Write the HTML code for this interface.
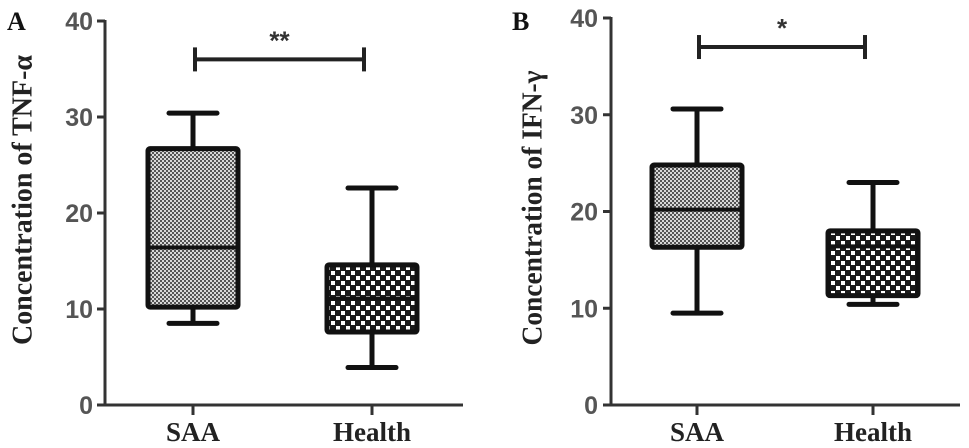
<!DOCTYPE html>
<html><head><meta charset="utf-8"><style>
html,body{margin:0;padding:0;background:#fff;}
svg{display:block;}
</style></head><body>
<svg id="chart" width="969" height="448" viewBox="0 0 969 448" xmlns="http://www.w3.org/2000/svg">
<defs>
<pattern id="fine" width="4" height="4" patternUnits="userSpaceOnUse">
<rect width="4" height="4" fill="#d8d8d8"/><rect width="2" height="2" fill="#555"/><rect x="2" y="2" width="2" height="2" fill="#555"/>
</pattern>
<pattern id="check" width="10" height="10" patternUnits="userSpaceOnUse">
<rect width="10" height="10" fill="#1a1a1a"/><rect x="1" y="1" width="4" height="4" fill="#fff"/><rect x="6" y="6" width="4" height="4" fill="#fff"/>
</pattern>
</defs>
<g id="root"></g>
</svg>
<script>
const categories = ["SAA", "Health"];
const tickLabels = [0, 10, 20, 30, 40];
// panel A: TNF-α  [whiskerLow, q1, median, q3, whiskerHigh]
const tnfSAA = [8.5, 10.2, 16.4, 26.7, 30.4];
const tnfHealth = [3.9, 7.6, 11.1, 14.6, 22.6];
// panel B: IFN-γ
const ifnSAA = [9.5, 16.3, 20.2, 24.8, 30.6];
const ifnHealth = [10.4, 11.3, 16.4, 18.0, 23.0];
const sigLabels = ["**", "*"];
const sigLevels = [36, 37];

const NS = "http://www.w3.org/2000/svg";
const root = document.getElementById('root');
function mk(tag, attrs, parent){const e=document.createElementNS(NS,tag);for(const k in attrs)e.setAttribute(k,attrs[k]);(parent||root).appendChild(e);return e;}

const panels = [
 {letter:"A", title:"Concentration of TNF-α", ax:105, y0:405, y40:21, xEnd:463, cx:[193,372], data:[tnfSAA,tnfHealth], lx:7, titleX:23, titleY:200, titleLen:290, tickEnd:93, sig:sigLabels[0], sigY:sigLevels[0]},
 {letter:"B", title:"Concentration of IFN-γ", ax:611, y0:405, y40:18, xEnd:960, cx:[697,873], data:[ifnSAA,ifnHealth], lx:512, titleX:533, titleY:208, titleLen:275, tickEnd:598, sig:sigLabels[1], sigY:sigLevels[1]}
];
const fills = ["url(#fine)", "url(#check)"];

panels.forEach((p, pi) => {
  const g = mk('g', {});
  
  
  const y = v => p.y0 - (v / 40) * (p.y0 - p.y40);

  const L = mk('text', {x:p.lx, y:30, 'font-family':'Liberation Serif, serif', 'font-weight':'bold', 'font-size':26, fill:'#111'}, g);
  L.textContent = p.letter;
  
  

  const t = mk('text', {x:p.titleX, y:p.titleY, transform:`rotate(-90 ${p.titleX} ${p.titleY})`, 'text-anchor':'middle', 'dominant-baseline':'central', 'font-family':'Liberation Serif, serif', 'font-weight':'bold', 'font-size':28, textLength:p.titleLen, lengthAdjust:'spacingAndGlyphs', fill:'#222'}, g);
  t.textContent = p.title;
  
  

  const ya = mk('line', {x1:p.ax, y1:p.y40-1, x2:p.ax, y2:p.y0, stroke:'#333', 'stroke-width':3}, g);
  
  
  const xa = mk('line', {x1:p.ax-8, y1:p.y0, x2:p.xEnd, y2:p.y0, stroke:'#333', 'stroke-width':3}, g);
  
  

  tickLabels.forEach(v => {
    const tk = mk('line', {x1:p.ax-8, y1:y(v), x2:p.ax, y2:y(v), stroke:'#333', 'stroke-width':3}, g);
    
    
    const tl = mk('text', {x:p.tickEnd, y:y(v)+1, 'text-anchor':'end', 'dominant-baseline':'central', 'font-family':'Liberation Sans, sans-serif', 'font-weight':'bold', 'font-size':25, fill:'#555'}, g);
    tl.textContent = v;
    
    
  });

  categories.forEach((c, ci) => {
    const cx = p.cx[ci];
    const tk = mk('line', {x1:cx, y1:p.y0, x2:cx, y2:p.y0+10, stroke:'#333', 'stroke-width':3}, g);
    
    
    const cl = mk('text', {x:cx, y:441, 'text-anchor':'middle', 'font-family':'Liberation Serif, serif', 'font-weight':'bold', 'font-size':27, fill:'#222'}, g);
    cl.textContent = c;
    
    

    const d = p.data[ci];
    const bw = 45, cw = 24;
    const bg = mk('g', {}, g);
    
    
    const sw = {stroke:'#111', 'stroke-width':5};
    mk('line', Object.assign({x1:cx, y1:y(d[4]), x2:cx, y2:y(d[3])}, sw), bg);
    mk('line', Object.assign({x1:cx, y1:y(d[1]), x2:cx, y2:y(d[0])}, sw), bg);
    mk('line', Object.assign({x1:cx-cw, y1:y(d[4]), x2:cx+cw, y2:y(d[4]), 'stroke-linecap':'round'}, sw), bg);
    mk('line', Object.assign({x1:cx-cw, y1:y(d[0]), x2:cx+cw, y2:y(d[0]), 'stroke-linecap':'round'}, sw), bg);
    mk('rect', {x:cx-bw, y:y(d[3]), width:bw*2, height:y(d[1])-y(d[3]), fill:fills[ci], stroke:'#111', 'stroke-width':5, rx:2}, bg);
    mk('line', Object.assign({x1:cx-bw, y1:y(d[2]), x2:cx+bw, y2:y(d[2])}, {stroke:'#111', 'stroke-width':4}), bg);
  });

  const sg = mk('g', {}, g);
  
  
  const sy = y(p.sigY), x1 = p.cx[0]+2, x2 = p.cx[1]-8;
  mk('line', {x1:x1, y1:sy, x2:x2, y2:sy, stroke:'#222', 'stroke-width':4}, sg);
  mk('line', {x1:x1, y1:sy-12, x2:x1, y2:sy+12, stroke:'#222', 'stroke-width':4}, sg);
  mk('line', {x1:x2, y1:sy-12, x2:x2, y2:sy+12, stroke:'#222', 'stroke-width':4}, sg);
  const st = mk('text', {x:(x1+x2)/2, y:sy-10, 'text-anchor':'middle', 'font-family':'Liberation Sans, sans-serif', 'font-weight':'bold', 'font-size':26, fill:'#333'}, sg);
  st.textContent = p.sig;
  
  
});
</script>
</body></html>
